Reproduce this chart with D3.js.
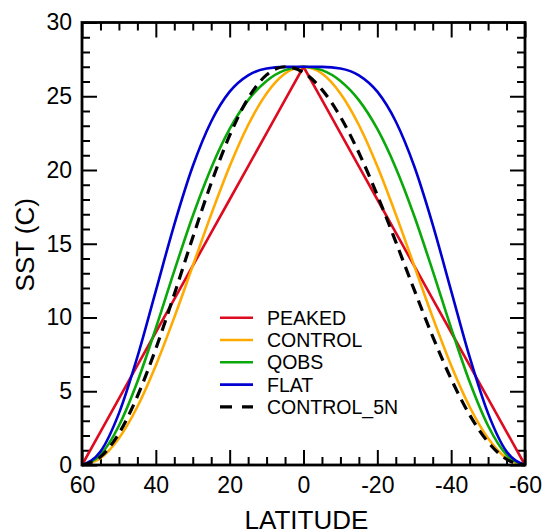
<!DOCTYPE html>
<html>
<head>
<meta charset="utf-8">
<script src="https://cdn.jsdelivr.net/npm/d3@7"></script>
<style>
body { margin: 0; background: #fff; }
text { font-family: "Liberation Sans", Arial, Helvetica, sans-serif; fill: #000; }
</style>
</head>
<body>
<div id="chart"></div>
<script>
// latitudes, north to south, every 5 deg
const lats = [60, 55, 50, 45, 40, 35, 30, 25, 20, 15, 10, 5, 0, -5, -10, -15, -20, -25, -30, -35, -40, -45, -50, -55, -60];

// SST (C)
const peaked    = [0, 2.25, 4.5, 6.75, 9, 11.25, 13.5, 15.75, 18, 20.25, 22.5, 24.75, 27, 24.75, 22.5, 20.25, 18, 15.75, 13.5, 11.25, 9, 6.75, 4.5, 2.25, 0];
const control   = [0, 0.46, 1.81, 3.95, 6.75, 10.01, 13.5, 16.99, 20.25, 23.05, 25.19, 26.54, 27, 26.54, 25.19, 23.05, 20.25, 16.99, 13.5, 10.01, 6.75, 3.95, 1.81, 0.46, 0];
const qobs      = [0, 0.69, 2.66, 5.64, 9.28, 13.16, 16.88, 20.14, 22.78, 24.74, 26.04, 26.77, 27, 26.77, 26.04, 24.74, 22.78, 20.14, 16.88, 13.16, 9.28, 5.64, 2.66, 0.69, 0];
const flat      = [0, 0.91, 3.5, 7.33, 11.81, 16.3, 20.25, 23.29, 25.31, 26.42, 26.88, 26.99, 27, 26.99, 26.88, 26.42, 25.31, 23.29, 20.25, 16.3, 11.81, 7.33, 3.5, 0.91, 0];
const control5n = [0, 0.55, 2.14, 4.66, 7.89, 11.58, 15.42, 19.11, 22.34, 24.86, 26.45, 27, 26.61, 25.45, 23.61, 21.17, 18.29, 15.13, 11.87, 8.71, 5.83, 3.4, 1.55, 0.39, 0];

const seriesNames = ["PEAKED", "CONTROL", "QOBS", "FLAT", "CONTROL_5N"];
const seriesColors = ["#dd0a20", "#ffaa00", "#0aa80a", "#0000d0", "#000000"];

const xMajor = [60, 40, 20, 0, -20, -40, -60];
const xMinor = [55, 50, 45, 35, 30, 25, 15, 10, 5, -5, -10, -15, -25, -30, -35, -45, -50, -55];
const yMajor = [0, 5, 10, 15, 20, 25, 30];
const yMinor = d3.range(0, 31).filter(v => v % 5 !== 0);

const width = 544, height = 531;
const m_left = 82, m_right = 525, m_top = 22.5, m_bottom = 465;

const svg = d3.select("#chart").append("svg")
    .attr("width", width)
    .attr("height", height);

const x = d3.scaleLinear().domain([60, -60]).range([m_left, m_right]);
const y = d3.scaleLinear().domain([0, 30]).range([m_bottom, m_top]);

// axes, ticks pointing inward
function styleAxis(g, sw){
    g.select(".domain").remove();
    g.selectAll(".tick line").attr("stroke", "#000").attr("stroke-width", sw);
}

svg.append("g").attr("transform", "translate(0," + m_bottom + ")")
    .call(d3.axisBottom(x).tickValues(xMinor).tickSize(-8).tickFormat(""))
    .call(g => styleAxis(g, 2));
svg.append("g").attr("transform", "translate(0," + m_bottom + ")")
    .call(d3.axisBottom(x).tickValues(xMajor).tickSize(-15).tickPadding(12).tickFormat(d => String(d)))
    .call(g => styleAxis(g, 2))
    .call(g => g.selectAll("text").attr("font-size", 23).attr("fill", "#000"));

svg.append("g").attr("transform", "translate(0," + m_top + ")")
    .call(d3.axisTop(x).tickValues(xMinor).tickSize(-8).tickFormat(""))
    .call(g => styleAxis(g, 2));
svg.append("g").attr("transform", "translate(0," + m_top + ")")
    .call(d3.axisTop(x).tickValues(xMajor).tickSize(-15).tickFormat(""))
    .call(g => styleAxis(g, 2));

svg.append("g").attr("transform", "translate(" + m_left + ",0)")
    .call(d3.axisLeft(y).tickValues(yMinor).tickSize(-8).tickFormat(""))
    .call(g => styleAxis(g, 2));
svg.append("g").attr("transform", "translate(" + m_left + ",0)")
    .call(d3.axisLeft(y).tickValues(yMajor).tickSize(-15).tickPadding(10).tickFormat(d => String(d)))
    .call(g => styleAxis(g, 2))
    .call(g => g.selectAll("text").attr("font-size", 23).attr("fill", "#000"));

svg.append("g").attr("transform", "translate(" + m_right + ",0)")
    .call(d3.axisRight(y).tickValues(yMinor).tickSize(-8).tickFormat(""))
    .call(g => styleAxis(g, 2));
svg.append("g").attr("transform", "translate(" + m_right + ",0)")
    .call(d3.axisRight(y).tickValues(yMajor).tickSize(-15).tickFormat(""))
    .call(g => styleAxis(g, 2));

// curves
const data = [peaked, control, qobs, flat, control5n];
const lineSmooth = d3.line().x(d => x(d[0])).y(d => y(d[1])).curve(d3.curveMonotoneX);
const lineStraight = d3.line().x(d => x(d[0])).y(d => y(d[1]));

data.forEach((vals, i) => {
    const pts = lats.map((la, j) => [la, vals[j]]);
    svg.append("path")
        .attr("d", i === 0 ? lineStraight(pts) : lineSmooth(pts))
        .attr("fill", "none")
        .attr("stroke", seriesColors[i])
        .attr("stroke-width", i === 4 ? 3.2 : 2.6)
        .attr("stroke-dasharray", i === 4 ? "11,7" : null)
        .attr("stroke-linejoin", "round");
});

// frame
svg.append("rect")
    .attr("x", m_left).attr("y", m_top)
    .attr("width", m_right - m_left).attr("height", m_bottom - m_top)
    .attr("fill", "none").attr("stroke", "#000").attr("stroke-width", 2.8);

// legend
const legend = svg.append("g").attr("transform", "translate(220,317.7)");
seriesNames.forEach((name, i) => {
    const row = legend.append("g").attr("transform", "translate(0," + (i * 22.3) + ")");
    row.append("line")
        .attr("x1", 0).attr("x2", 33).attr("y1", 0).attr("y2", 0)
        .attr("stroke", seriesColors[i])
        .attr("stroke-width", i === 4 ? 3.2 : 2.6)
        .attr("stroke-dasharray", i === 4 ? "12,10" : null);
    row.append("text")
        .attr("x", 47).attr("y", 7)
        .attr("font-size", 19.5)
        .text(name);
});

// axis titles
svg.append("text")
    .attr("x", (m_left + m_right) / 2 + 3).attr("y", 529)
    .attr("text-anchor", "middle")
    .attr("font-size", 26)
    .text("LATITUDE");

svg.append("text")
    .attr("transform", "translate(34," + ((m_top + m_bottom) / 2 + 1) + ") rotate(-90)")
    .attr("text-anchor", "middle")
    .attr("font-size", 26)
    .text("SST (C)");
</script>
</body>
</html>
